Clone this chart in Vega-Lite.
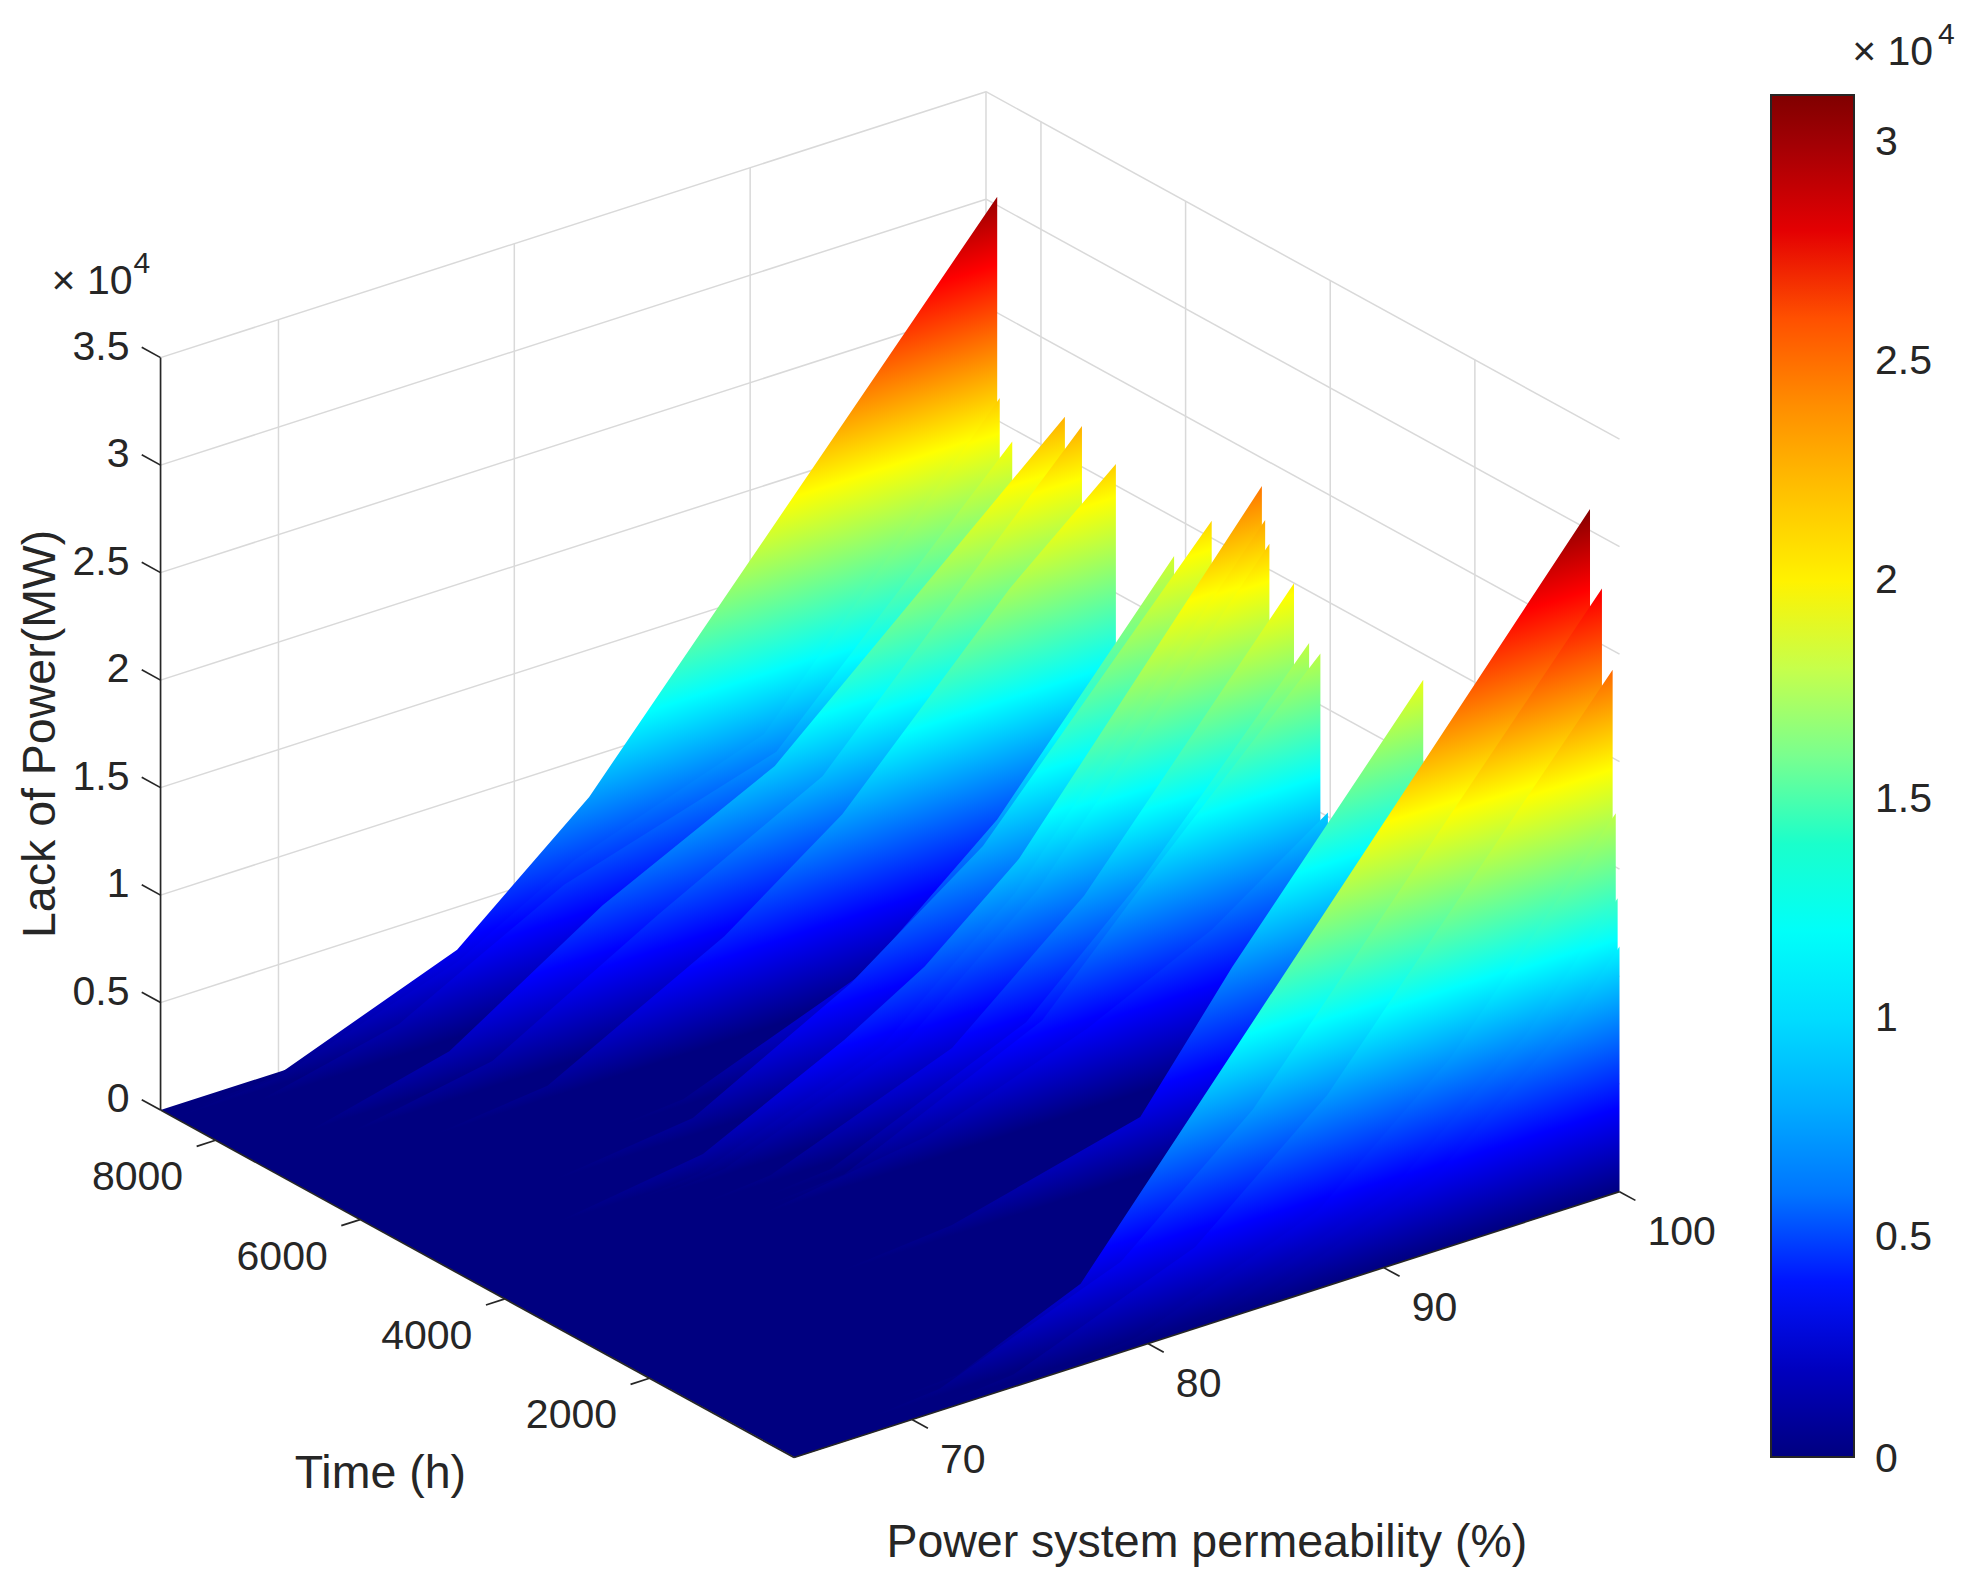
{
  "$schema": "https://vega.github.io/schema/vega-lite/v6.json",
  "width": 1967,
  "height": 1583,
  "padding": 0,
  "autosize": "none",
  "background": "white",
  "config": {"view": {"stroke": null}, "text": {"font": "Liberation Sans", "color": "#262626"}},
  "data": {"values": [
    {"kind":"grid","p":65,"t":8760,"z":0.5,"p2":100,"t2":8760,"z2":0.5},{"kind":"grid","p":100,"t":8760,"z":0.5,"p2":100,"t2":0,"z2":0.5},
    {"kind":"grid","p":65,"t":8760,"z":1,"p2":100,"t2":8760,"z2":1},{"kind":"grid","p":100,"t":8760,"z":1,"p2":100,"t2":0,"z2":1},
    {"kind":"grid","p":65,"t":8760,"z":1.5,"p2":100,"t2":8760,"z2":1.5},{"kind":"grid","p":100,"t":8760,"z":1.5,"p2":100,"t2":0,"z2":1.5},
    {"kind":"grid","p":65,"t":8760,"z":2,"p2":100,"t2":8760,"z2":2},{"kind":"grid","p":100,"t":8760,"z":2,"p2":100,"t2":0,"z2":2},
    {"kind":"grid","p":65,"t":8760,"z":2.5,"p2":100,"t2":8760,"z2":2.5},{"kind":"grid","p":100,"t":8760,"z":2.5,"p2":100,"t2":0,"z2":2.5},
    {"kind":"grid","p":65,"t":8760,"z":3,"p2":100,"t2":8760,"z2":3},{"kind":"grid","p":100,"t":8760,"z":3,"p2":100,"t2":0,"z2":3},
    {"kind":"grid","p":65,"t":8760,"z":3.5,"p2":100,"t2":8760,"z2":3.5},{"kind":"grid","p":100,"t":8760,"z":3.5,"p2":100,"t2":0,"z2":3.5},
    {"kind":"grid","p":70,"t":8760,"z":0,"p2":70,"t2":8760,"z2":3.5},{"kind":"grid","p":80,"t":8760,"z":0,"p2":80,"t2":8760,"z2":3.5},
    {"kind":"grid","p":90,"t":8760,"z":0,"p2":90,"t2":8760,"z2":3.5},{"kind":"grid","p":100,"t":8760,"z":0,"p2":100,"t2":8760,"z2":3.5},
    {"kind":"grid","p":100,"t":8000,"z":0,"p2":100,"t2":8000,"z2":3.5},{"kind":"grid","p":100,"t":6000,"z":0,"p2":100,"t2":6000,"z2":3.5},
    {"kind":"grid","p":100,"t":4000,"z":0,"p2":100,"t2":4000,"z2":3.5},{"kind":"grid","p":100,"t":2000,"z":0,"p2":100,"t2":2000,"z2":3.5},

    {"kind":"floor","p":65,"t":8760,"z":0,"p2":65,"t2":8760,"z2":0},
    {"kind":"floor","p":91.9,"t":8760,"z":0,"p2":65,"t2":0,"z2":0},
    {"kind":"floor","p":100,"t":8760,"z":0,"p2":73.14,"t2":0,"z2":0},
    {"kind":"floor","p":100,"t":0,"z":0,"p2":100,"t2":0,"z2":0},

    {"kind":"axis","p":65,"t":8760,"z":0,"p2":65,"t2":8760,"z2":3.5},
    {"kind":"axis","p":65,"t":0,"z":0,"p2":65,"t2":8760,"z2":0},
    {"kind":"axis","p":65,"t":0,"z":0,"p2":100,"t2":0,"z2":0},

    {"kind":"ztick","label":"0","p":65,"t":8760,"z":0,"p2":65,"t2":9020,"z2":0},
    {"kind":"ztick","label":"0.5","p":65,"t":8760,"z":0.5,"p2":65,"t2":9020,"z2":0.5},
    {"kind":"ztick","label":"1","p":65,"t":8760,"z":1,"p2":65,"t2":9020,"z2":1},
    {"kind":"ztick","label":"1.5","p":65,"t":8760,"z":1.5,"p2":65,"t2":9020,"z2":1.5},
    {"kind":"ztick","label":"2","p":65,"t":8760,"z":2,"p2":65,"t2":9020,"z2":2},
    {"kind":"ztick","label":"2.5","p":65,"t":8760,"z":2.5,"p2":65,"t2":9020,"z2":2.5},
    {"kind":"ztick","label":"3","p":65,"t":8760,"z":3,"p2":65,"t2":9020,"z2":3},
    {"kind":"ztick","label":"3.5","p":65,"t":8760,"z":3.5,"p2":65,"t2":9020,"z2":3.5},
    {"kind":"ttick","label":"8000","p":65,"t":8000,"z":0,"p2":64.2,"t2":8000,"z2":0},
    {"kind":"ttick","label":"6000","p":65,"t":6000,"z":0,"p2":64.2,"t2":6000,"z2":0},
    {"kind":"ttick","label":"4000","p":65,"t":4000,"z":0,"p2":64.2,"t2":4000,"z2":0},
    {"kind":"ttick","label":"2000","p":65,"t":2000,"z":0,"p2":64.2,"t2":2000,"z2":0},
    {"kind":"ptick","label":"70","p":70,"t":0,"z":0,"p2":70,"t2":-220,"z2":0},
    {"kind":"ptick","label":"80","p":80,"t":0,"z":0,"p2":80,"t2":-220,"z2":0},
    {"kind":"ptick","label":"90","p":90,"t":0,"z":0,"p2":90,"t2":-220,"z2":0},
    {"kind":"ptick","label":"100","p":100,"t":0,"z":0,"p2":100,"t2":-220,"z2":0},

    {"kind":"ztitle","label":"Lack of Power(MW)","p":65,"t":8760,"z":1.75},
    {"kind":"ttitle","label":"Time (h)","p":65,"t":4380,"z":0},
    {"kind":"ptitle","label":"Power system permeability (%)","p":82.5,"t":0,"z":0},
    {"kind":"zexp","label":"× 10","p":65,"t":8760,"z":3.5},
    {"kind":"zexp4","label":"4","p":65,"t":8760,"z":3.5},

    {"kind":"cbmark","z":0.5},{"kind":"cbmark","z":1},{"kind":"cbmark","z":1.5},{"kind":"cbmark","z":2},{"kind":"cbmark","z":2.5},{"kind":"cbmark","z":3},
    {"kind":"cbexp","label":"× 10","z":3.11},
    {"kind":"cbexp4","label":"4","z":3.11},
    {"kind":"cbzero","label":"0","z":0},

    {"kind":"surface","slice":1,"p":65,"t":8605,"z":0},{"kind":"surface","slice":1,"p":69.4,"t":8605,"z":0.03},{"kind":"surface","slice":1,"p":77.1,"t":8605,"z":0.347},{"kind":"surface","slice":1,"p":82.7,"t":8605,"z":0.86},{"kind":"surface","slice":1,"p":100,"t":8605,"z":3.04},
    {"kind":"surface","slice":2,"p":65,"t":8570,"z":0},{"kind":"surface","slice":2,"p":69.4,"t":8570,"z":0.03},{"kind":"surface","slice":2,"p":77,"t":8570,"z":0.3},{"kind":"surface","slice":2,"p":82,"t":8570,"z":0.6},{"kind":"surface","slice":2,"p":90,"t":8570,"z":0.9},{"kind":"surface","slice":2,"p":100,"t":8570,"z":2.11},
    {"kind":"surface","slice":3,"p":65,"t":8397,"z":0},{"kind":"surface","slice":3,"p":68,"t":8397,"z":0},{"kind":"surface","slice":3,"p":74,"t":8397,"z":0.15},{"kind":"surface","slice":3,"p":81,"t":8397,"z":0.55},{"kind":"surface","slice":3,"p":90,"t":8397,"z":0.85},{"kind":"surface","slice":3,"p":100,"t":8397,"z":1.94},
    {"kind":"surface","slice":4,"p":65,"t":7669,"z":0},{"kind":"surface","slice":4,"p":68,"t":7669,"z":0},{"kind":"surface","slice":4,"p":73.9,"t":7669,"z":0.16},{"kind":"surface","slice":4,"p":80.4,"t":7669,"z":0.61},{"kind":"surface","slice":4,"p":87.7,"t":7669,"z":1},{"kind":"surface","slice":4,"p":100,"t":7669,"z":2.19},
    {"kind":"surface","slice":5,"p":65,"t":7433,"z":0},{"kind":"surface","slice":5,"p":69,"t":7433,"z":0},{"kind":"surface","slice":5,"p":75,"t":7433,"z":0.12},{"kind":"surface","slice":5,"p":82,"t":7433,"z":0.55},{"kind":"surface","slice":5,"p":89,"t":7433,"z":0.95},{"kind":"surface","slice":5,"p":100,"t":7433,"z":2.19},
    {"kind":"surface","slice":6,"p":65,"t":6964,"z":0},{"kind":"surface","slice":6,"p":71,"t":6964,"z":0},{"kind":"surface","slice":6,"p":75.9,"t":6964,"z":0.06},{"kind":"surface","slice":6,"p":83.4,"t":6964,"z":0.49},{"kind":"surface","slice":6,"p":88.4,"t":6964,"z":0.88},{"kind":"surface","slice":6,"p":95.5,"t":6964,"z":1.68},{"kind":"surface","slice":6,"p":100,"t":6964,"z":2.1},
    {"kind":"surface","slice":7,"p":65,"t":6159,"z":0},{"kind":"surface","slice":7,"p":76.2,"t":6159,"z":0},{"kind":"surface","slice":7,"p":79.2,"t":6159,"z":0.03},{"kind":"surface","slice":7,"p":86.9,"t":6159,"z":0.35},{"kind":"surface","slice":7,"p":92.5,"t":6159,"z":0.86},{"kind":"surface","slice":7,"p":100,"t":6159,"z":1.82},
    {"kind":"surface","slice":8,"p":65,"t":5639,"z":0},{"kind":"surface","slice":8,"p":72,"t":5639,"z":0},{"kind":"surface","slice":8,"p":78,"t":5639,"z":0.08},{"kind":"surface","slice":8,"p":84.7,"t":5639,"z":0.47},{"kind":"surface","slice":8,"p":90.3,"t":5639,"z":0.91},{"kind":"surface","slice":8,"p":100,"t":5639,"z":2.08},
    {"kind":"surface","slice":9,"p":65,"t":4945,"z":0},{"kind":"surface","slice":9,"p":70,"t":4945,"z":0},{"kind":"surface","slice":9,"p":76.3,"t":4945,"z":0.1},{"kind":"surface","slice":9,"p":82.3,"t":4945,"z":0.42},{"kind":"surface","slice":9,"p":85.7,"t":4945,"z":0.64},{"kind":"surface","slice":9,"p":89.7,"t":4945,"z":1},{"kind":"surface","slice":9,"p":100,"t":4945,"z":2.37},
    {"kind":"surface","slice":10,"p":65,"t":4900,"z":0},{"kind":"surface","slice":10,"p":73.1,"t":4900,"z":0},{"kind":"surface","slice":10,"p":76.1,"t":4900,"z":0.03},{"kind":"surface","slice":10,"p":83.8,"t":4900,"z":0.35},{"kind":"surface","slice":10,"p":89.4,"t":4900,"z":0.86},{"kind":"surface","slice":10,"p":100,"t":4900,"z":2.22},
    {"kind":"surface","slice":11,"p":65,"t":4841,"z":0},{"kind":"surface","slice":11,"p":73.9,"t":4841,"z":0},{"kind":"surface","slice":11,"p":76.9,"t":4841,"z":0.03},{"kind":"surface","slice":11,"p":84.6,"t":4841,"z":0.35},{"kind":"surface","slice":11,"p":90.2,"t":4841,"z":0.86},{"kind":"surface","slice":11,"p":100,"t":4841,"z":2.12},
    {"kind":"surface","slice":12,"p":65,"t":4501,"z":0},{"kind":"surface","slice":12,"p":74.8,"t":4501,"z":0},{"kind":"surface","slice":12,"p":77.8,"t":4501,"z":0.03},{"kind":"surface","slice":12,"p":85.5,"t":4501,"z":0.35},{"kind":"surface","slice":12,"p":91.1,"t":4501,"z":0.86},{"kind":"surface","slice":12,"p":100,"t":4501,"z":2},
    {"kind":"surface","slice":13,"p":65,"t":4292,"z":0},{"kind":"surface","slice":13,"p":76.7,"t":4292,"z":0},{"kind":"surface","slice":13,"p":79.7,"t":4292,"z":0.03},{"kind":"surface","slice":13,"p":88,"t":4292,"z":0.42},{"kind":"surface","slice":13,"p":93,"t":4292,"z":0.92},{"kind":"surface","slice":13,"p":100,"t":4292,"z":1.76},
    {"kind":"surface","slice":14,"p":65,"t":4136,"z":0},{"kind":"surface","slice":14,"p":76,"t":4136,"z":0},{"kind":"surface","slice":14,"p":79.8,"t":4136,"z":0.03},{"kind":"surface","slice":14,"p":88.2,"t":4136,"z":0.45},{"kind":"surface","slice":14,"p":93,"t":4136,"z":0.99},{"kind":"surface","slice":14,"p":100,"t":4136,"z":1.74},
    {"kind":"surface","slice":15,"p":65,"t":4032,"z":0},{"kind":"surface","slice":15,"p":76,"t":4032,"z":0},{"kind":"surface","slice":15,"p":83,"t":4032,"z":0.115},{"kind":"surface","slice":15,"p":89.8,"t":4032,"z":0.376},{"kind":"surface","slice":15,"p":95.1,"t":4032,"z":0.65},{"kind":"surface","slice":15,"p":100,"t":4032,"z":1.02},
    {"kind":"surface","slice":16,"p":65,"t":2714,"z":0},{"kind":"surface","slice":16,"p":75,"t":2714,"z":0},{"kind":"surface","slice":16,"p":80,"t":2714,"z":0.05},{"kind":"surface","slice":16,"p":88,"t":2714,"z":0.27},{"kind":"surface","slice":16,"p":90.3,"t":2714,"z":0.6},{"kind":"surface","slice":16,"p":91.9,"t":2714,"z":0.83},{"kind":"surface","slice":16,"p":100,"t":2714,"z":1.88},
    {"kind":"surface","slice":17,"p":65,"t":408,"z":0},{"kind":"surface","slice":17,"p":70,"t":408,"z":0},{"kind":"surface","slice":17,"p":73.2,"t":408,"z":0.02},{"kind":"surface","slice":17,"p":78.4,"t":408,"z":0.26},{"kind":"surface","slice":17,"p":100,"t":408,"z":3.1},
    {"kind":"surface","slice":18,"p":65,"t":243,"z":0},{"kind":"surface","slice":18,"p":68.9,"t":243,"z":0},{"kind":"surface","slice":18,"p":71.9,"t":243,"z":0.03},{"kind":"surface","slice":18,"p":79.6,"t":243,"z":0.35},{"kind":"surface","slice":18,"p":85.2,"t":243,"z":0.86},{"kind":"surface","slice":18,"p":100,"t":243,"z":2.76},
    {"kind":"surface","slice":19,"p":65,"t":95,"z":0},{"kind":"surface","slice":19,"p":71.6,"t":95,"z":0},{"kind":"surface","slice":19,"p":74.6,"t":95,"z":0.03},{"kind":"surface","slice":19,"p":82.3,"t":95,"z":0.35},{"kind":"surface","slice":19,"p":87.9,"t":95,"z":0.86},{"kind":"surface","slice":19,"p":100,"t":95,"z":2.41},
    {"kind":"surface","slice":20,"p":65,"t":52,"z":0},{"kind":"surface","slice":20,"p":76.7,"t":52,"z":0},{"kind":"surface","slice":20,"p":79.7,"t":52,"z":0.03},{"kind":"surface","slice":20,"p":87.4,"t":52,"z":0.35},{"kind":"surface","slice":20,"p":93,"t":52,"z":0.86},{"kind":"surface","slice":20,"p":100,"t":52,"z":1.75},
    {"kind":"surface","slice":21,"p":65,"t":26,"z":0},{"kind":"surface","slice":21,"p":79.8,"t":26,"z":0},{"kind":"surface","slice":21,"p":82.8,"t":26,"z":0.03},{"kind":"surface","slice":21,"p":90.5,"t":26,"z":0.35},{"kind":"surface","slice":21,"p":96.1,"t":26,"z":0.86},{"kind":"surface","slice":21,"p":100,"t":26,"z":1.36},
    {"kind":"surface","slice":22,"p":65,"t":0,"z":0},{"kind":"surface","slice":22,"p":81.5,"t":0,"z":0},{"kind":"surface","slice":22,"p":84.5,"t":0,"z":0.03},{"kind":"surface","slice":22,"p":92.2,"t":0,"z":0.35},{"kind":"surface","slice":22,"p":97.8,"t":0,"z":0.86},{"kind":"surface","slice":22,"p":100,"t":0,"z":1.14}
  ]},
  "transform": [
    {"calculate": "633+(datum.p-65)*18.8-datum.t*0.05765", "as": "sx"},
    {"calculate": "1162-(datum.p-65)*6.057-datum.t*0.03162-datum.z*171.4", "as": "sy"},
    {"calculate": "1162-(datum.p-65)*6.057-datum.t*0.03162", "as": "sy0"},
    {"calculate": "633+(datum.p2-65)*18.8-datum.t2*0.05765", "as": "sx2"},
    {"calculate": "1162-(datum.p2-65)*6.057-datum.t2*0.03162-datum.z2*171.4", "as": "sy2"},
    {"calculate": "1162.3-datum.z*349.5", "as": "cby"},
    {"calculate": "1478", "as": "cbx"},
    {"calculate": "1468", "as": "cbx0"}
  ],
  "encoding": {
    "x": {"field": "sx", "type": "quantitative", "scale": {"domain": [0, 1568], "nice": false, "zero": false}, "axis": null},
    "y": {"field": "sy", "type": "quantitative", "scale": {"domain": [1262, 0], "nice": false, "zero": false}, "axis": null}
  },
  "layer": [
    {"transform": [{"filter": "datum.kind=='grid'"}], "mark": {"type": "rule", "color": "#d9d9d9", "strokeWidth": 1.5},
     "encoding": {"x2": {"field": "sx2"}, "y2": {"field": "sy2"}}},
    {"transform": [{"filter": "datum.kind=='floor'"}], "mark": {"type": "area", "color": "#000080"},
     "encoding": {"y2": {"field": "sy2"}}},

    {"transform": [{"filter": "datum.slice==1"}], "mark": {"type": "area", "color": {"gradient": "linear", "x1": 1, "y1": -0.0177, "x2": 1.194, "y2": 0.6546, "stops": [{"offset": 0, "color": "#800000"}, {"offset": 0.125, "color": "#ff0000"}, {"offset": 0.375, "color": "#ffff00"}, {"offset": 0.625, "color": "#00ffff"}, {"offset": 0.875, "color": "#0000ff"}, {"offset": 1, "color": "#000080"}]}}, "encoding": {"y2": {"field": "sy0"}}},
    {"transform": [{"filter": "datum.slice==2"}], "mark": {"type": "area", "color": {"gradient": "linear", "x1": 1, "y1": -0.3003, "x2": 1.303, "y2": 0.519, "stops": [{"offset": 0, "color": "#800000"}, {"offset": 0.125, "color": "#ff0000"}, {"offset": 0.375, "color": "#ffff00"}, {"offset": 0.625, "color": "#00ffff"}, {"offset": 0.875, "color": "#0000ff"}, {"offset": 1, "color": "#000080"}]}}, "encoding": {"y2": {"field": "sy0"}}},
    {"transform": [{"filter": "datum.slice==3"}], "mark": {"type": "area", "color": {"gradient": "linear", "x1": 1, "y1": -0.3701, "x2": 1.3316, "y2": 0.4816, "stops": [{"offset": 0, "color": "#800000"}, {"offset": 0.125, "color": "#ff0000"}, {"offset": 0.375, "color": "#ffff00"}, {"offset": 0.625, "color": "#00ffff"}, {"offset": 0.875, "color": "#0000ff"}, {"offset": 1, "color": "#000080"}]}}, "encoding": {"y2": {"field": "sy0"}}},
    {"transform": [{"filter": "datum.slice==4"}], "mark": {"type": "area", "color": {"gradient": "linear", "x1": 1, "y1": -0.27, "x2": 1.2903, "y2": 0.5343, "stops": [{"offset": 0, "color": "#800000"}, {"offset": 0.125, "color": "#ff0000"}, {"offset": 0.375, "color": "#ffff00"}, {"offset": 0.625, "color": "#00ffff"}, {"offset": 0.875, "color": "#0000ff"}, {"offset": 1, "color": "#000080"}]}}, "encoding": {"y2": {"field": "sy0"}}},
    {"transform": [{"filter": "datum.slice==5"}], "mark": {"type": "area", "color": {"gradient": "linear", "x1": 1, "y1": -0.27, "x2": 1.2903, "y2": 0.5343, "stops": [{"offset": 0, "color": "#800000"}, {"offset": 0.125, "color": "#ff0000"}, {"offset": 0.375, "color": "#ffff00"}, {"offset": 0.625, "color": "#00ffff"}, {"offset": 0.875, "color": "#0000ff"}, {"offset": 1, "color": "#000080"}]}}, "encoding": {"y2": {"field": "sy0"}}},
    {"transform": [{"filter": "datum.slice==6"}], "mark": {"type": "area", "color": {"gradient": "linear", "x1": 1, "y1": -0.3042, "x2": 1.3042, "y2": 0.5166, "stops": [{"offset": 0, "color": "#800000"}, {"offset": 0.125, "color": "#ff0000"}, {"offset": 0.375, "color": "#ffff00"}, {"offset": 0.625, "color": "#00ffff"}, {"offset": 0.875, "color": "#0000ff"}, {"offset": 1, "color": "#000080"}]}}, "encoding": {"y2": {"field": "sy0"}}},
    {"transform": [{"filter": "datum.slice==7"}], "mark": {"type": "area", "color": {"gradient": "linear", "x1": 1, "y1": -0.4237, "x2": 1.3543, "y2": 0.4521, "stops": [{"offset": 0, "color": "#800000"}, {"offset": 0.125, "color": "#ff0000"}, {"offset": 0.375, "color": "#ffff00"}, {"offset": 0.625, "color": "#00ffff"}, {"offset": 0.875, "color": "#0000ff"}, {"offset": 1, "color": "#000080"}]}}, "encoding": {"y2": {"field": "sy0"}}},
    {"transform": [{"filter": "datum.slice==8"}], "mark": {"type": "area", "color": {"gradient": "linear", "x1": 1, "y1": -0.3122, "x2": 1.3075, "y2": 0.5124, "stops": [{"offset": 0, "color": "#800000"}, {"offset": 0.125, "color": "#ff0000"}, {"offset": 0.375, "color": "#ffff00"}, {"offset": 0.625, "color": "#00ffff"}, {"offset": 0.875, "color": "#0000ff"}, {"offset": 1, "color": "#000080"}]}}, "encoding": {"y2": {"field": "sy0"}}},
    {"transform": [{"filter": "datum.slice==9"}], "mark": {"type": "area", "color": {"gradient": "linear", "x1": 1, "y1": -0.2067, "x2": 1.265, "y2": 0.5662, "stops": [{"offset": 0, "color": "#800000"}, {"offset": 0.125, "color": "#ff0000"}, {"offset": 0.375, "color": "#ffff00"}, {"offset": 0.625, "color": "#00ffff"}, {"offset": 0.875, "color": "#0000ff"}, {"offset": 1, "color": "#000080"}]}}, "encoding": {"y2": {"field": "sy0"}}},
    {"transform": [{"filter": "datum.slice==10"}], "mark": {"type": "area", "color": {"gradient": "linear", "x1": 1, "y1": -0.2591, "x2": 1.2859, "y2": 0.5399, "stops": [{"offset": 0, "color": "#800000"}, {"offset": 0.125, "color": "#ff0000"}, {"offset": 0.375, "color": "#ffff00"}, {"offset": 0.625, "color": "#00ffff"}, {"offset": 0.875, "color": "#0000ff"}, {"offset": 1, "color": "#000080"}]}}, "encoding": {"y2": {"field": "sy0"}}},
    {"transform": [{"filter": "datum.slice==11"}], "mark": {"type": "area", "color": {"gradient": "linear", "x1": 1, "y1": -0.2965, "x2": 1.3011, "y2": 0.5207, "stops": [{"offset": 0, "color": "#800000"}, {"offset": 0.125, "color": "#ff0000"}, {"offset": 0.375, "color": "#ffff00"}, {"offset": 0.625, "color": "#00ffff"}, {"offset": 0.875, "color": "#0000ff"}, {"offset": 1, "color": "#000080"}]}}, "encoding": {"y2": {"field": "sy0"}}},
    {"transform": [{"filter": "datum.slice==12"}], "mark": {"type": "area", "color": {"gradient": "linear", "x1": 1, "y1": -0.3446, "x2": 1.3209, "y2": 0.4953, "stops": [{"offset": 0, "color": "#800000"}, {"offset": 0.125, "color": "#ff0000"}, {"offset": 0.375, "color": "#ffff00"}, {"offset": 0.625, "color": "#00ffff"}, {"offset": 0.875, "color": "#0000ff"}, {"offset": 1, "color": "#000080"}]}}, "encoding": {"y2": {"field": "sy0"}}},
    {"transform": [{"filter": "datum.slice==13"}], "mark": {"type": "area", "color": {"gradient": "linear", "x1": 1, "y1": -0.4522, "x2": 1.3666, "y2": 0.4361, "stops": [{"offset": 0, "color": "#800000"}, {"offset": 0.125, "color": "#ff0000"}, {"offset": 0.375, "color": "#ffff00"}, {"offset": 0.625, "color": "#00ffff"}, {"offset": 0.875, "color": "#0000ff"}, {"offset": 1, "color": "#000080"}]}}, "encoding": {"y2": {"field": "sy0"}}},
    {"transform": [{"filter": "datum.slice==14"}], "mark": {"type": "area", "color": {"gradient": "linear", "x1": 1, "y1": -0.4622, "x2": 1.3709, "y2": 0.4304, "stops": [{"offset": 0, "color": "#800000"}, {"offset": 0.125, "color": "#ff0000"}, {"offset": 0.375, "color": "#ffff00"}, {"offset": 0.625, "color": "#00ffff"}, {"offset": 0.875, "color": "#0000ff"}, {"offset": 1, "color": "#000080"}]}}, "encoding": {"y2": {"field": "sy0"}}},
    {"transform": [{"filter": "datum.slice==15"}], "mark": {"type": "area", "color": {"gradient": "linear", "x1": 1, "y1": -0.9286, "x2": 1.5819, "y2": 0.1331, "stops": [{"offset": 0, "color": "#800000"}, {"offset": 0.125, "color": "#ff0000"}, {"offset": 0.375, "color": "#ffff00"}, {"offset": 0.625, "color": "#00ffff"}, {"offset": 0.875, "color": "#0000ff"}, {"offset": 1, "color": "#000080"}]}}, "encoding": {"y2": {"field": "sy0"}}},
    {"transform": [{"filter": "datum.slice==16"}], "mark": {"type": "area", "color": {"gradient": "linear", "x1": 1, "y1": -0.3965, "x2": 1.3427, "y2": 0.4671, "stops": [{"offset": 0, "color": "#800000"}, {"offset": 0.125, "color": "#ff0000"}, {"offset": 0.375, "color": "#ffff00"}, {"offset": 0.625, "color": "#00ffff"}, {"offset": 0.875, "color": "#0000ff"}, {"offset": 1, "color": "#000080"}]}}, "encoding": {"y2": {"field": "sy0"}}},
    {"transform": [{"filter": "datum.slice==17"}], "mark": {"type": "area", "color": {"gradient": "linear", "x1": 1, "y1": -0.0036, "x2": 1.1895, "y2": 0.6608, "stops": [{"offset": 0, "color": "#800000"}, {"offset": 0.125, "color": "#ff0000"}, {"offset": 0.375, "color": "#ffff00"}, {"offset": 0.625, "color": "#00ffff"}, {"offset": 0.875, "color": "#0000ff"}, {"offset": 1, "color": "#000080"}]}}, "encoding": {"y2": {"field": "sy0"}}},
    {"transform": [{"filter": "datum.slice==18"}], "mark": {"type": "area", "color": {"gradient": "linear", "x1": 1, "y1": -0.0891, "x2": 1.2202, "y2": 0.6223, "stops": [{"offset": 0, "color": "#800000"}, {"offset": 0.125, "color": "#ff0000"}, {"offset": 0.375, "color": "#ffff00"}, {"offset": 0.625, "color": "#00ffff"}, {"offset": 0.875, "color": "#0000ff"}, {"offset": 1, "color": "#000080"}]}}, "encoding": {"y2": {"field": "sy0"}}},
    {"transform": [{"filter": "datum.slice==19"}], "mark": {"type": "area", "color": {"gradient": "linear", "x1": 1, "y1": -0.1936, "x2": 1.2599, "y2": 0.5726, "stops": [{"offset": 0, "color": "#800000"}, {"offset": 0.125, "color": "#ff0000"}, {"offset": 0.375, "color": "#ffff00"}, {"offset": 0.625, "color": "#00ffff"}, {"offset": 0.875, "color": "#0000ff"}, {"offset": 1, "color": "#000080"}]}}, "encoding": {"y2": {"field": "sy0"}}},
    {"transform": [{"filter": "datum.slice==20"}], "mark": {"type": "area", "color": {"gradient": "linear", "x1": 1, "y1": -0.457, "x2": 1.3687, "y2": 0.4333, "stops": [{"offset": 0, "color": "#800000"}, {"offset": 0.125, "color": "#ff0000"}, {"offset": 0.375, "color": "#ffff00"}, {"offset": 0.625, "color": "#00ffff"}, {"offset": 0.875, "color": "#0000ff"}, {"offset": 1, "color": "#000080"}]}}, "encoding": {"y2": {"field": "sy0"}}},
    {"transform": [{"filter": "datum.slice==21"}], "mark": {"type": "area", "color": {"gradient": "linear", "x1": 1, "y1": -0.676, "x2": 1.4658, "y2": 0.302, "stops": [{"offset": 0, "color": "#800000"}, {"offset": 0.125, "color": "#ff0000"}, {"offset": 0.375, "color": "#ffff00"}, {"offset": 0.625, "color": "#00ffff"}, {"offset": 0.875, "color": "#0000ff"}, {"offset": 1, "color": "#000080"}]}}, "encoding": {"y2": {"field": "sy0"}}},
    {"transform": [{"filter": "datum.slice==22"}], "mark": {"type": "area", "color": {"gradient": "linear", "x1": 1, "y1": -0.8311, "x2": 1.5368, "y2": 0.2004, "stops": [{"offset": 0, "color": "#800000"}, {"offset": 0.125, "color": "#ff0000"}, {"offset": 0.375, "color": "#ffff00"}, {"offset": 0.625, "color": "#00ffff"}, {"offset": 0.875, "color": "#0000ff"}, {"offset": 1, "color": "#000080"}]}}, "encoding": {"y2": {"field": "sy0"}}},

    {"transform": [{"filter": "datum.kind=='axis'||indexof(datum.kind,'tick')>=0"}], "mark": {"type": "rule", "color": "#262626", "strokeWidth": 1.7},
     "encoding": {"x2": {"field": "sx2"}, "y2": {"field": "sy2"}}},

    {"transform": [{"filter": "datum.kind=='ztick'"}], "mark": {"type": "text", "align": "right", "baseline": "middle", "fontSize": 41, "dx": -31, "dy": -10}, "encoding": {"text": {"field": "label"}}},
    {"transform": [{"filter": "datum.kind=='ttick'"}], "mark": {"type": "text", "align": "center", "baseline": "middle", "fontSize": 41, "dx": -78, "dy": 38}, "encoding": {"text": {"field": "label"}}},
    {"transform": [{"filter": "datum.kind=='ptick'"}], "mark": {"type": "text", "align": "left", "baseline": "middle", "fontSize": 41, "dx": 28, "dy": 41}, "encoding": {"text": {"field": "label"}}},
    {"transform": [{"filter": "datum.kind=='ztitle'"}], "mark": {"type": "text", "align": "center", "baseline": "middle", "fontSize": 46.5, "angle": 270, "dy": -120}, "encoding": {"text": {"field": "label"}}},
    {"transform": [{"filter": "datum.kind=='ttitle'"}], "mark": {"type": "text", "align": "center", "baseline": "middle", "fontSize": 46.5, "dx": -97, "dy": 190}, "encoding": {"text": {"field": "label"}}},
    {"transform": [{"filter": "datum.kind=='ptitle'"}], "mark": {"type": "text", "align": "center", "baseline": "middle", "fontSize": 46.5, "dy": 218}, "encoding": {"text": {"field": "label"}}},
    {"transform": [{"filter": "datum.kind=='zexp'"}], "mark": {"type": "text", "align": "right", "baseline": "middle", "fontSize": 41, "dx": -28, "dy": -76}, "encoding": {"text": {"field": "label"}}},
    {"transform": [{"filter": "datum.kind=='zexp4'"}], "mark": {"type": "text", "align": "left", "baseline": "middle", "fontSize": 30, "dx": -27, "dy": -94}, "encoding": {"text": {"field": "label"}}},

    {"transform": [{"filter": "datum.kind=='surface'"}], "mark": {"type": "point", "filled": true, "size": 0, "opacity": 1},
     "encoding": {
       "color": {"field": "z", "type": "quantitative",
         "scale": {"domain": [0, 0.389, 1.166, 1.944, 2.721, 3.11], "range": ["#000080", "#0000ff", "#00ffff", "#ffff00", "#ff0000", "#800000"]},
         "legend": {"type": "gradient", "orient": "none", "legendX": 1771, "legendY": 95, "title": null, "direction": "vertical", "zindex": -1,
           "gradientLength": 1362, "gradientThickness": 83, "gradientStrokeColor": "#262626", "gradientStrokeWidth": 2,
           "values": [0.5, 1, 1.5, 2, 2.5, 3], "labelExpr": "''+datum.value", "labelFont": "Liberation Sans", "labelFontSize": 41, "labelColor": "#262626", "labelOffset": 21, "labelOverlap": false}
       }
     }},
    {"transform": [{"filter": "datum.kind=='cbmark'"}], "mark": {"type": "rule", "color": "#262626", "strokeWidth": 2.5},
     "encoding": {"x": {"field": "cbx0", "type": "quantitative"}, "x2": {"field": "cbx"}, "y": {"field": "cby", "type": "quantitative"}}},
    {"transform": [{"filter": "datum.kind=='cbexp'"}], "mark": {"type": "text", "align": "right", "baseline": "middle", "fontSize": 41, "dx": 79, "dy": -42},
     "encoding": {"x": {"field": "cbx", "type": "quantitative"}, "y": {"field": "cby", "type": "quantitative"}, "text": {"field": "label"}}},
    {"transform": [{"filter": "datum.kind=='cbexp4'"}], "mark": {"type": "text", "align": "left", "baseline": "middle", "fontSize": 30, "dx": 84, "dy": -60},
     "encoding": {"x": {"field": "cbx", "type": "quantitative"}, "y": {"field": "cby", "type": "quantitative"}, "text": {"field": "label"}}},
    {"transform": [{"filter": "datum.kind=='cbzero'"}], "mark": {"type": "text", "align": "left", "baseline": "middle", "fontSize": 41, "dx": 21, "dy": 2},
     "encoding": {"x": {"field": "cbx", "type": "quantitative"}, "y": {"field": "cby", "type": "quantitative"}, "text": {"field": "label"}}}
  ]
}
